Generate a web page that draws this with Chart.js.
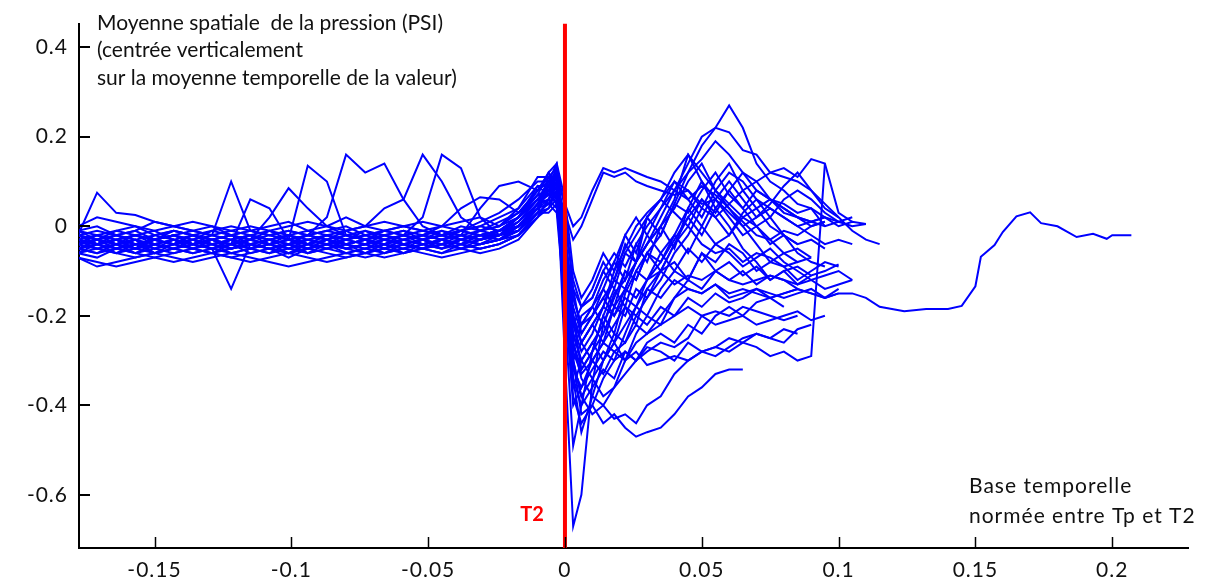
<!DOCTYPE html>
<html>
<head>
<meta charset="utf-8">
<script src="https://cdn.jsdelivr.net/npm/chart.js@4"></script>
<style>
  html, body { margin: 0; padding: 0; background: #fff; }
  #wrap { width: 1224px; height: 586px; position: relative; }
</style>
</head>
<body>
<div id="wrap"><canvas id="chart"></canvas></div>
<script>
// time base (normalized between Tp and T2)
const tPre = [-0.178, -0.171, -0.164, -0.157, -0.150, -0.143, -0.136, -0.129, -0.122, -0.115, -0.108, -0.101, -0.094,
  -0.087, -0.080, -0.073, -0.066, -0.059, -0.052, -0.045, -0.038, -0.031, -0.024, -0.017, -0.010];
const tNear = [-0.006, -0.003, 0.000, 0.003, 0.006];
const tPost = [0.010, 0.014, 0.018, 0.022, 0.026, 0.030, 0.035, 0.040, 0.045, 0.050, 0.055, 0.060, 0.065,
  0.070, 0.075, 0.080, 0.085, 0.090, 0.095, 0.100, 0.105, 0.110, 0.115];
const tTail = [0.124, 0.132, 0.140, 0.145, 0.150, 0.152, 0.157, 0.160, 0.165, 0.170, 0.174, 0.180, 0.187, 0.193, 0.198, 0.200, 0.207];

// pressure curves (PSI)
const s01 = [-0.02, 0.075, 0.03, 0.025, 0.01, 0.0, -0.01, -0.02, -0.01, -0.02, -0.03, -0.02, -0.01, -0.02, -0.03, -0.02, -0.01, -0.02, -0.03, -0.02, -0.01, -0.02, -0.01, 0.0, 0.04,
  0.08, 0.11, 0.05, 0.0, 0.02,
  0.08, 0.13, 0.12, 0.13, 0.12, 0.11, 0.10, 0.08, 0.06, 0.09, 0.07, 0.04, 0.01, -0.02, -0.03, -0.01, -0.02, 0.0, 0.01];
const s02 = [-0.05, -0.04, -0.06, -0.05, -0.04, -0.05, -0.06, -0.05, -0.14, -0.04, -0.05, -0.04, -0.06, -0.05, -0.04, -0.05, -0.03, -0.04, -0.05, -0.04, -0.03, -0.04, -0.03, -0.02, 0.02,
  0.06, 0.09, 0.03, -0.03, 0.0,
  0.06, 0.12, 0.11, 0.12, 0.10, 0.09, 0.08, 0.07, 0.08, 0.05, 0.06, 0.03, 0.0, -0.04, -0.08, -0.06, -0.05, -0.07];
const s03 = [-0.02, -0.03, -0.02, -0.04, -0.03, -0.02, -0.03, -0.02, 0.10, -0.01, -0.02, -0.03, -0.02, -0.03, -0.02, -0.01, -0.03, -0.02, -0.01, -0.02, -0.03, -0.02, -0.01, 0.01, 0.05,
  0.10, 0.12, -0.30, -0.67, -0.60,
  -0.35, -0.22, -0.16, -0.10, -0.12, -0.06, -0.02, 0.05, 0.12, 0.18, 0.22, 0.27, 0.22, 0.14, 0.10, 0.08, 0.05, 0.04, 0.0];
const s04 = [-0.04, -0.03, -0.05, -0.04, -0.03, -0.04, -0.02, -0.03, -0.04, 0.06, 0.04, -0.03, -0.04, -0.03, -0.05, -0.04, -0.03, -0.04, -0.05, -0.03, -0.04, -0.03, -0.02, -0.01, 0.03,
  0.09, 0.11, -0.20, -0.49, -0.40,
  -0.28, -0.20, -0.24, -0.15, -0.10, -0.12, -0.08, -0.03, 0.02, -0.02, 0.04, 0.0, -0.05, -0.08, -0.12, -0.10, -0.13, -0.11];
const s05 = [-0.03, -0.04, -0.03, -0.02, -0.04, -0.03, -0.04, -0.03, -0.02, -0.03, 0.02, 0.085, 0.04, 0.0, -0.02, -0.03, -0.04, -0.03, -0.02, -0.03, -0.02, -0.03, -0.01, 0.0, 0.04,
  0.08, 0.06, -0.10, -0.30, -0.42,
  -0.40, -0.44, -0.42, -0.45, -0.47, -0.46, -0.45, -0.42, -0.38, -0.36, -0.33, -0.32, -0.32];
const s06 = [-0.02, -0.01, -0.02, -0.03, -0.02, -0.01, -0.02, -0.03, -0.02, -0.01, -0.02, -0.03, 0.135, 0.10, -0.02, -0.03, -0.02, -0.01, -0.02, -0.03, -0.01, -0.02, -0.01, 0.02, 0.06,
  0.07, 0.05, -0.12, -0.30, -0.38,
  -0.42, -0.40, -0.43, -0.42, -0.44, -0.40, -0.38, -0.33, -0.30, -0.28, -0.29, -0.27, -0.25, -0.24, -0.25, -0.26, -0.23, -0.22];
const s07 = [-0.04, -0.05, -0.04, -0.03, -0.05, -0.04, -0.03, -0.04, -0.05, -0.04, -0.03, -0.04, -0.02, 0.02, 0.16, 0.12, 0.14, 0.06, 0.0, -0.02, -0.03, -0.02, -0.03, -0.01, 0.03,
  0.05, 0.08, -0.10, -0.28, -0.33,
  -0.30, -0.26, -0.28, -0.30, -0.28, -0.31, -0.30, -0.29, -0.30, -0.28, -0.27, -0.28, -0.26, -0.27, -0.29, -0.28, -0.30, -0.29, 0.14];
const s08 = [-0.03, -0.02, -0.03, -0.04, -0.03, -0.02, -0.04, -0.03, -0.02, -0.03, -0.04, -0.03, -0.02, -0.03, -0.01, 0.0, 0.04, 0.06, 0.16, 0.10, 0.02, -0.01, -0.02, 0.0, 0.05,
  0.09, 0.12, -0.08, -0.22, -0.28,
  -0.24, -0.18, -0.10, -0.05, 0.0, 0.03, 0.06, 0.10, 0.08, 0.04, 0.02, 0.05, 0.08, 0.10, 0.12, 0.13, 0.11, 0.15, 0.14, 0.03, 0.01];
const s09 = [-0.05, -0.06, -0.05, -0.04, -0.06, -0.05, -0.04, -0.05, -0.06, -0.05, -0.04, -0.05, -0.06, -0.04, -0.05, -0.04, -0.03, -0.02, 0.02, 0.16, 0.13, 0.02, -0.02, -0.01, 0.04,
  0.11, 0.09, -0.12, -0.26, -0.20,
  -0.18, -0.22, -0.15, -0.12, -0.08, -0.04, 0.0, -0.05, 0.04, 0.10, 0.06, 0.02, -0.02, 0.0, 0.02, 0.06, 0.08, 0.06, 0.03, 0.01, 0.0, 0.005];
const s10 = [-0.03, -0.04, -0.02, -0.03, -0.04, -0.03, -0.02, -0.03, -0.04, -0.03, -0.02, -0.01, -0.02, -0.03, -0.04, -0.03, -0.02, -0.03, -0.02, 0.0, 0.04, 0.065, 0.06, 0.03, 0.07,
  0.07, 0.10, -0.05, -0.18, -0.24,
  -0.20, -0.16, -0.20, -0.14, -0.16, -0.12, -0.10, -0.13, -0.11, -0.12, -0.10, -0.12, -0.13, -0.12, -0.11, -0.12, -0.13, -0.12, -0.14, -0.13, -0.12];
const s11 = [-0.04, -0.03, -0.04, -0.05, -0.04, -0.03, -0.04, -0.05, -0.03, -0.04, -0.05, -0.04, -0.03, -0.04, -0.05, -0.04, -0.03, -0.04, -0.05, -0.03, -0.02, 0.04, 0.09, 0.10, 0.08,
  0.10, 0.06, -0.14, -0.32, -0.36,
  -0.30, -0.33, -0.28, -0.26, -0.22, -0.24, -0.20, -0.16, -0.14, -0.15, -0.13, -0.16, -0.15, -0.14, -0.16, -0.15, -0.14, -0.15, -0.16, -0.15];
const s12 = [-0.07, -0.08, -0.09, -0.08, -0.07, -0.08, -0.07, -0.06, -0.07, -0.08, -0.07, -0.06, -0.07, -0.08, -0.07, -0.06, -0.07, -0.06, -0.05, -0.06, -0.05, -0.06, -0.05, -0.03, 0.02,
  0.06, 0.04, -0.10, -0.24, -0.30,
  -0.34, -0.38, -0.36, -0.33, -0.30, -0.28, -0.26, -0.27, -0.25, -0.20, -0.22, -0.21, -0.20, -0.22, -0.21, -0.20, -0.19, -0.21, -0.20];
const s13 = [0.0, 0.02, 0.01, 0.0, -0.01, 0.0, 0.01, 0.0, -0.01, 0.0, -0.01, 0.0, 0.01, 0.0, -0.01, 0.0, 0.01, 0.0, -0.01, 0.0, 0.01, 0.02, 0.0, 0.02, 0.06,
  0.05, 0.07, -0.06, -0.16, -0.22,
  -0.18, -0.12, -0.08, -0.02, -0.06, 0.02, 0.06, 0.03, 0.0, -0.04, -0.06, -0.05, -0.08, -0.06, -0.07, -0.09, -0.08];
const s14 = [-0.06, -0.07, -0.05, -0.06, -0.07, -0.06, -0.05, -0.06, -0.07, -0.06, -0.05, -0.06, -0.05, -0.06, -0.07, -0.06, -0.05, -0.06, -0.04, -0.05, -0.04, -0.05, -0.04, -0.02, 0.03,
  0.04, 0.08, -0.04, -0.14, -0.18,
  -0.16, -0.10, -0.06, -0.09, -0.04, 0.0, 0.04, 0.08, 0.12, 0.15, 0.19, 0.16, 0.12, 0.08, 0.06, 0.04, 0.02, 0.01, 0.0, 0.01];
const s15 = [-0.02, -0.03, -0.04, -0.02, -0.03, -0.01, -0.02, -0.03, -0.02, -0.04, -0.03, -0.02, -0.03, -0.02, -0.01, -0.03, -0.02, -0.01, -0.03, -0.02, -0.01, 0.0, -0.01, 0.02, 0.07,
  0.08, 0.12, -0.02, -0.20, -0.32,
  -0.28, -0.24, -0.18, -0.14, -0.08, -0.04, 0.02, 0.08, 0.14, 0.20, 0.22, 0.21, 0.17, 0.16, 0.12, 0.11, 0.10, 0.08, 0.05, 0.02, -0.01, -0.03, -0.04];
const s16 = [-0.05, -0.04, -0.03, -0.05, -0.04, -0.05, -0.03, -0.04, -0.05, -0.03, -0.04, -0.05, -0.04, -0.03, -0.04, -0.05, -0.04, -0.03, -0.04, -0.03, -0.05, -0.04, -0.03, -0.01, 0.05,
  0.09, 0.06, -0.16, -0.40, -0.36,
  -0.32, -0.28, -0.30, -0.24, -0.18, -0.12, -0.06, -0.02, 0.04, 0.0, 0.06, 0.10, 0.06, 0.02, 0.05, 0.09, 0.12, 0.08, 0.04, 0.02];
const s17 = [-0.03, -0.02, -0.04, -0.03, -0.05, -0.04, -0.03, -0.05, -0.04, -0.03, -0.04, -0.02, -0.03, -0.04, -0.02, -0.03, -0.04, -0.02, -0.03, -0.04, -0.02, -0.03, -0.02, 0.01, 0.06,
  0.10, 0.08, -0.12, -0.30, -0.26,
  -0.22, -0.26, -0.18, -0.20, -0.14, -0.16, -0.10, -0.08, -0.12, -0.06, -0.10, -0.08, -0.11, -0.09, -0.12, -0.10, -0.09, -0.11, -0.10, -0.085];
const s18 = [-0.01, -0.02, -0.01, 0.0, -0.02, -0.01, -0.02, -0.01, 0.0, -0.01, -0.02, -0.01, -0.02, -0.01, 0.0, -0.02, -0.01, 0.0, -0.01, -0.02, 0.0, -0.01, 0.01, 0.03, 0.08,
  0.12, 0.14, -0.04, -0.22, -0.18,
  -0.16, -0.10, -0.14, -0.06, -0.08, 0.02, -0.02, 0.05, 0.03, 0.08, 0.12, 0.07, 0.04, 0.08, 0.06, 0.05, 0.03, 0.04, 0.02];
const s19 = [-0.04, -0.05, -0.06, -0.04, -0.05, -0.06, -0.05, -0.04, -0.06, -0.05, -0.04, -0.06, -0.05, -0.04, -0.05, -0.06, -0.04, -0.05, -0.04, -0.05, -0.03, -0.04, -0.03, 0.0, 0.04,
  0.05, 0.03, -0.18, -0.34, -0.40,
  -0.36, -0.32, -0.34, -0.28, -0.30, -0.27, -0.28, -0.30, -0.26, -0.28, -0.27, -0.25, -0.26, -0.24, -0.25, -0.23, -0.24];
const s20 = [-0.02, -0.04, -0.03, -0.02, -0.01, -0.03, -0.04, -0.02, -0.03, -0.02, -0.04, -0.03, -0.04, -0.02, -0.03, -0.02, -0.03, -0.04, -0.03, -0.01, -0.02, -0.03, -0.01, 0.02, 0.09,
  0.07, 0.11, 0.0, -0.12, -0.18,
  -0.14, -0.08, -0.12, -0.04, -0.08, -0.02, -0.06, -0.10, -0.05, -0.08, -0.04, -0.06, -0.09, -0.07, -0.05, -0.08, -0.10, -0.12, -0.11, -0.10, -0.12];
const s21 = [-0.06, -0.05, -0.06, -0.07, -0.06, -0.05, -0.06, -0.05, -0.04, -0.05, -0.06, -0.05, -0.04, -0.05, -0.06, -0.05, -0.06, -0.04, -0.05, -0.06, -0.04, -0.05, -0.04, -0.02, 0.02,
  0.04, 0.06, -0.08, -0.20, -0.26,
  -0.30, -0.26, -0.22, -0.18, -0.20, -0.16, -0.12, -0.06, -0.02, 0.04, 0.10, 0.14, 0.08, 0.04, 0.0, -0.02, -0.04, -0.03, -0.05];
const s22 = [-0.03, -0.04, -0.03, -0.02, -0.03, -0.04, -0.03, -0.04, -0.03, -0.02, -0.03, -0.04, -0.03, -0.04, -0.03, -0.02, -0.03, -0.02, -0.04, -0.03, -0.02, -0.01, 0.0, 0.04, 0.11,
  0.11, 0.08, -0.14, -0.28, -0.22,
  -0.20, -0.16, -0.12, -0.14, -0.08, -0.04, 0.0, 0.06, 0.16, 0.12, 0.08, 0.05, 0.02, 0.04, 0.06, 0.03, 0.02, 0.01, 0.02, 0.0, 0.01, 0.005];
const s23 = [-0.01, 0.0, -0.02, -0.01, 0.01, 0.0, -0.01, 0.0, -0.02, -0.01, 0.0, 0.01, -0.01, 0.0, 0.02, 0.0, -0.01, 0.0, 0.01, 0.0, -0.01, 0.0, 0.02, 0.04, 0.09,
  0.09, 0.13, 0.04, -0.14, -0.24,
  -0.20, -0.14, -0.18, -0.10, -0.12, -0.06, -0.08, -0.02, -0.06, 0.0, -0.04, -0.02, 0.02, 0.0, -0.03, -0.06, -0.08, -0.07];
const s24 = [-0.05, -0.03, -0.04, -0.05, -0.03, -0.04, -0.05, -0.04, -0.03, -0.05, -0.04, -0.03, -0.05, -0.04, -0.03, -0.04, -0.05, -0.03, -0.04, -0.03, -0.04, -0.02, -0.03, 0.0, 0.05,
  0.06, 0.09, -0.06, -0.24, -0.30,
  -0.26, -0.30, -0.24, -0.26, -0.20, -0.22, -0.18, -0.20, -0.16, -0.18, -0.15, -0.17, -0.16, -0.14, -0.15, -0.16, -0.15, -0.14, -0.16, -0.14];
const s25 = [-0.07, -0.09, -0.08, -0.07, -0.06, -0.07, -0.08, -0.07, -0.06, -0.07, -0.08, -0.09, -0.08, -0.07, -0.06, -0.07, -0.06, -0.05, -0.06, -0.07, -0.06, -0.05, -0.04, -0.02, 0.03,
  0.03, 0.05, -0.08, -0.26, -0.34,
  -0.38, -0.40, -0.36, -0.30, -0.26, -0.24, -0.22, -0.20, -0.18, -0.20, -0.19, -0.20, -0.18, -0.19, -0.20, -0.21, -0.20];
const s26 = [-0.02, -0.03, -0.01, -0.02, -0.03, -0.02, -0.01, -0.02, -0.03, -0.02, -0.01, -0.03, -0.02, -0.01, -0.02, -0.03, -0.01, -0.02, -0.03, -0.02, -0.01, 0.01, 0.03, 0.06, 0.10,
  0.10, 0.14, 0.06, -0.10, -0.16,
  -0.12, -0.06, -0.10, -0.02, 0.02, -0.02, 0.04, 0.10, 0.06, 0.02, 0.08, 0.12, 0.10, 0.06, 0.04, 0.02, 0.0, 0.01, 0.02, 0.01, 0.02];
const s27 = [-0.04, -0.03, -0.05, -0.04, -0.03, -0.02, -0.04, -0.03, -0.05, -0.04, -0.03, -0.04, -0.05, -0.03, -0.04, -0.03, -0.05, -0.04, -0.03, -0.02, -0.03, -0.02, -0.01, 0.02, 0.06,
  0.08, 0.10, -0.10, -0.34, -0.46,
  -0.38, -0.30, -0.26, -0.22, -0.18, -0.20, -0.14, -0.10, -0.12, -0.06, -0.08, -0.04, -0.06, -0.10, -0.08, -0.09, -0.12, -0.10, -0.08, -0.09];
const s29 = [-0.03, -0.05, -0.04, -0.06, -0.05, -0.03, -0.05, -0.06, -0.04, -0.05, -0.06, -0.04, -0.05, -0.03, -0.05, -0.04, -0.06, -0.05, -0.03, -0.04, -0.05, -0.03, -0.02, 0.01, 0.06,
  0.09, 0.07, -0.16, -0.36, -0.30,
  -0.26, -0.22, -0.26, -0.18, -0.22, -0.14, -0.10, -0.04, 0.02, 0.06, 0.02, -0.02, 0.03, 0.06, 0.02, -0.02, -0.04];
const s30 = [-0.04, -0.02, -0.03, -0.05, -0.03, -0.04, -0.02, -0.04, -0.03, -0.05, -0.03, -0.02, -0.04, -0.05, -0.03, -0.04, -0.02, -0.04, -0.03, -0.05, -0.03, -0.02, -0.02, 0.02, 0.07,
  0.12, 0.09, -0.10, -0.26, -0.32,
  -0.28, -0.20, -0.14, -0.18, -0.10, -0.06, -0.10, -0.04, 0.0, 0.06, 0.03, 0.08, 0.04, 0.0, -0.04, -0.02, -0.06, -0.08, -0.09];
const s31 = [-0.06, -0.04, -0.05, -0.03, -0.06, -0.04, -0.05, -0.06, -0.05, -0.04, -0.05, -0.07, -0.05, -0.04, -0.06, -0.05, -0.04, -0.06, -0.05, -0.04, -0.05, -0.04, -0.03, -0.01, 0.04,
  0.06, 0.10, -0.12, -0.30, -0.38,
  -0.34, -0.30, -0.26, -0.30, -0.24, -0.20, -0.22, -0.16, -0.12, -0.14, -0.10, -0.12, -0.10, -0.13, -0.11, -0.12, -0.14];
const s32 = [-0.01, -0.03, -0.02, -0.01, -0.03, -0.02, -0.03, -0.01, -0.02, -0.03, -0.01, -0.02, -0.04, -0.02, -0.03, -0.01, -0.02, -0.03, -0.02, -0.01, -0.03, -0.01, 0.0, 0.03, 0.08,
  0.10, 0.12, -0.06, -0.20, -0.26,
  -0.22, -0.18, -0.12, -0.06, -0.02, 0.02, 0.06, 0.12, 0.16, 0.10, 0.04, 0.08, 0.12, 0.10, 0.06, 0.04, 0.02, 0.0, 0.01];
const s33 = [-0.05, -0.06, -0.04, -0.05, -0.06, -0.05, -0.04, -0.05, -0.04, -0.06, -0.05, -0.04, -0.06, -0.05, -0.04, -0.06, -0.05, -0.04, -0.05, -0.04, -0.03, -0.04, -0.02, 0.0, 0.05,
  0.08, 0.05, -0.18, -0.38, -0.44,
  -0.40, -0.34, -0.30, -0.28, -0.30, -0.26, -0.24, -0.26, -0.22, -0.24, -0.20, -0.18, -0.20, -0.17, -0.16, -0.18];
const s34 = [-0.02, -0.04, -0.03, -0.05, -0.02, -0.03, -0.05, -0.03, -0.04, -0.02, -0.03, -0.05, -0.03, -0.02, -0.04, -0.03, -0.05, -0.03, -0.02, -0.03, -0.04, -0.02, -0.01, 0.02, 0.08,
  0.11, 0.13, -0.02, -0.16, -0.22,
  -0.18, -0.14, -0.08, -0.12, -0.04, -0.08, 0.0, 0.04, 0.10, 0.14, 0.08, 0.04, 0.0, 0.02, 0.04, 0.02, 0.0, -0.02, -0.04, -0.03, -0.04];
// the one curve that runs past 0.115
const s28 = [-0.05, -0.04, -0.05, -0.06, -0.04, -0.05, -0.04, -0.03, -0.05, -0.04, -0.05, -0.06, -0.04, -0.05, -0.04, -0.03, -0.04, -0.05, -0.04, -0.03, -0.04, -0.03, -0.02, 0.0, 0.05,
  0.07, 0.10, -0.06, -0.20, -0.26,
  -0.22, -0.18, -0.20, -0.16, -0.18, -0.14, -0.16, -0.12, -0.14, -0.15, -0.13, -0.15, -0.14, -0.15, -0.16, -0.15, -0.14, -0.15, -0.16, -0.15, -0.15, -0.16, -0.18];
const s28Tail = [-0.19, -0.185, -0.185, -0.178, -0.134, -0.068, -0.042, -0.013, 0.022, 0.031, 0.007, 0.0, -0.024, -0.017, -0.028, -0.02, -0.02];

// axes
const xMin = -0.1776, xMax = 0.2277;
const yMin = -0.7187, yMax = 0.4527;
const xTicks = [-0.15, -0.1, -0.05, 0, 0.05, 0.1, 0.15, 0.2];
const xTickLabels = ['-0.15', '-0.1', '-0.05', '0', '0.05', '0.1', '0.15', '0.2'];
const yTicks = [-0.6, -0.4, -0.2, 0, 0.2, 0.4];
const yTickLabels = ['-0.6', '-0.4', '-0.2', '0', '0.2', '0.4'];

const titleLines = ['Moyenne spatiale  de la pression (PSI)', '(centrée verticalement', 'sur la moyenne temporelle de la valeur)'];
const xTitleLines = ['Base temporelle', 'normée entre Tp et T2'];

const FONT = "Lato, 'Open Sans', sans-serif";
Chart.defaults.font.family = FONT;
Chart.defaults.color = '#000';

const tAll = tPre.concat(tNear, tPost);
const curves = [s01, s02, s03, s04, s05, s06, s07, s08, s09, s10, s11, s12, s13, s14, s15, s16, s17,
  s18, s19, s20, s21, s22, s23, s24, s25, s26, s27, s29, s30, s31, s32, s33, s34];

function toPoints(times, vals) {
  return vals.map((y, i) => ({ x: times[i], y: y }));
}

const blue = { borderColor: '#0000ff', borderWidth: 2, pointRadius: 0, tension: 0, fill: false, order: 2 };
const datasets = [{
  // T2 marker
  data: [{ x: 0, y: yMax }, { x: 0, y: yMin }],
  borderColor: '#ff0000', borderWidth: 4, pointRadius: 0, order: 1
}];
curves.forEach(c => datasets.push(Object.assign({ data: toPoints(tAll, c) }, blue)));
datasets.push(Object.assign({ data: toPoints(tAll.concat(tTail), s28.concat(s28Tail)) }, blue));

const decorPlugin = {
  id: 'decor',
  beforeDraw(chart) {
    chart.ctx.letterSpacing = '1px';
  },
  afterDraw(chart) {
    const { ctx, chartArea: a, scales: { x, y } } = chart;
    ctx.save();
    // inward tick marks
    ctx.strokeStyle = '#000';
    ctx.lineWidth = 1.5;
    xTicks.forEach(v => {
      const px = Math.round(x.getPixelForValue(v)) + 0.5;
      ctx.beginPath(); ctx.moveTo(px, a.bottom); ctx.lineTo(px, a.bottom - 11); ctx.stroke();
    });
    ctx.lineWidth = 2;
    yTicks.forEach(v => {
      const py = Math.round(y.getPixelForValue(v));
      ctx.beginPath(); ctx.moveTo(a.left, py); ctx.lineTo(a.left + 11, py); ctx.stroke();
    });
    // texts
    ctx.fillStyle = '#111';
    ctx.textBaseline = 'middle';
    ctx.textAlign = 'left';
    ctx.letterSpacing = '0px';
    ctx.font = '21px ' + FONT;
    titleLines.forEach((t, i) => ctx.fillText(t, 97, 23 + i * 27.5));
    ctx.letterSpacing = '1px';
    xTitleLines.forEach((t, i) => ctx.fillText(t, 969, 486 + i * 30));
    ctx.letterSpacing = '0px';
    ctx.fillStyle = '#ff0000';
    ctx.font = 'bold 20px ' + FONT;
    ctx.textAlign = 'center';
    ctx.fillText('T2', 532, 515);
    ctx.restore();
  }
};

new Chart(document.getElementById('chart'), {
  type: 'line',
  data: { datasets },
  plugins: [decorPlugin],
  options: {
    responsive: true,
    maintainAspectRatio: false,
    animation: false,
    layout: { padding: { top: 15, right: 36, left: 0, bottom: 0 } },
    plugins: { legend: { display: false }, tooltip: { enabled: false } },
    scales: {
      x: {
        type: 'linear', min: xMin, max: xMax,
        afterBuildTicks: s => { s.ticks = xTicks.map(v => ({ value: v })); },
        afterFit: s => { s.height = 38; },
        grid: { display: false, drawTicks: false },
        border: { display: true, color: '#000', width: 2 },
        ticks: { autoSkip: false, maxRotation: 0, padding: 10, font: { size: 21 }, color: '#111',
          callback: (v, i) => xTickLabels[i] }
      },
      y: {
        type: 'linear', min: yMin, max: yMax,
        afterBuildTicks: s => { s.ticks = yTicks.map(v => ({ value: v })); },
        afterFit: s => { s.width = 79; },
        grid: { display: false, drawTicks: false },
        border: { display: true, color: '#000', width: 2 },
        ticks: { autoSkip: false, padding: 11, font: { size: 21 }, color: '#111',
          callback: (v, i) => yTickLabels[i] }
      }
    }
  }
});
</script>
</body>
</html>
